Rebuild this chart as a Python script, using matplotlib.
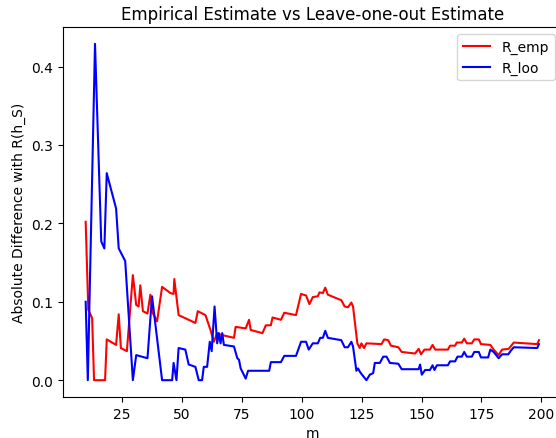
import matplotlib
matplotlib.use("Agg")
import matplotlib.pyplot as plt

# values
m_emp = [9.8, 10.9, 12.5, 13.3, 17.9, 18.6, 22.5, 23.6, 24.5, 27.0, 29.5, 30.9, 31.9,
         32.6, 33.7, 35.6, 36.8, 37.9, 39.6, 41.7, 45.2, 46.5, 46.8, 48.6, 55.6, 56.6,
         59.8, 61.9, 63.3, 64.7, 66.1, 71.7, 72.4, 76.6, 78.0, 78.7, 83.6, 85.0, 87.1,
         87.8, 91.3, 92.7, 97.6, 99.7, 101.8, 103.2, 104.6, 106.7, 107.4, 108.8, 109.8,
         110.9, 116.5, 117.9, 119.3, 120.7, 121.4, 123.2, 124.2, 124.9, 126.0, 127.0,
         133.3, 134.4, 136.1, 137.2, 140.3, 141.7, 147.3, 148.8, 149.8, 151.2, 153.5,
         154.6, 155.7, 161.0, 161.9, 164.0, 164.7, 166.8, 167.8, 168.9, 171.0, 172.0,
         173.9, 174.8, 178.7, 180.1, 182.2, 183.6, 186.4, 188.5, 198.3, 199.0]
r_emp = [0.202, 0.090, 0.079, 0.000, 0.000, 0.052, 0.045, 0.084, 0.041, 0.037, 0.134, 0.096, 0.094,
         0.121, 0.088, 0.085, 0.109, 0.085, 0.075, 0.119, 0.111, 0.110, 0.129, 0.083, 0.073, 0.088,
         0.083, 0.064, 0.049, 0.060, 0.058, 0.054, 0.068, 0.066, 0.077, 0.064, 0.060, 0.070, 0.070,
         0.080, 0.077, 0.086, 0.083, 0.110, 0.108, 0.097, 0.106, 0.107, 0.112, 0.111, 0.118,
         0.109, 0.102, 0.094, 0.093, 0.099, 0.094, 0.047, 0.041, 0.047, 0.041, 0.047,
         0.046, 0.052, 0.051, 0.044, 0.042, 0.036, 0.034, 0.040, 0.033, 0.039, 0.039,
         0.045, 0.039, 0.039, 0.044, 0.044, 0.048, 0.048, 0.053, 0.047, 0.047, 0.052,
         0.052, 0.046, 0.045, 0.039, 0.032, 0.039, 0.040, 0.048, 0.046, 0.051]

m_loo = [9.8, 10.7, 13.7, 16.3, 17.6, 18.6, 22.5, 23.6, 26.3, 29.5, 30.9, 35.6, 37.5, 41.7,
         45.9, 46.5, 47.7, 48.6, 51.4, 52.8, 55.6, 57.0, 58.4, 59.1, 60.5, 61.6, 62.4, 63.6,
         64.7, 65.4, 66.1, 66.8, 67.5, 71.7, 73.1, 73.8, 74.5, 76.6, 77.6, 86.4, 87.1, 91.3,
         92.7, 97.6, 99.7, 101.8, 102.9, 104.6, 106.7, 107.7, 108.8, 109.8, 110.9, 116.5,
         117.9, 119.3, 120.7, 121.4, 122.8, 123.5, 124.2, 124.9, 127.0, 128.4, 129.8, 130.5,
         132.6, 134.0, 135.4, 136.8, 140.3, 141.7, 148.8, 149.4, 150.1, 151.5, 153.5, 154.6,
         155.4, 156.4, 161.0, 161.9, 164.0, 165.0, 166.8, 167.8, 168.9, 171.0, 172.0, 173.9,
         174.8, 177.8, 178.7, 180.1, 182.2, 183.6, 186.2, 187.1, 188.5, 198.3, 199.0]
r_loo = [0.100, 0.000, 0.429, 0.177, 0.168, 0.264, 0.219, 0.168, 0.152, 0.000, 0.032, 0.028, 0.107, 0.000,
         0.000, 0.022, 0.000, 0.041, 0.039, 0.020, 0.017, 0.000, 0.000, 0.017, 0.017, 0.049, 0.037, 0.094,
         0.047, 0.060, 0.047, 0.060, 0.045, 0.043, 0.028, 0.026, 0.015, 0.002, 0.012, 0.012, 0.023, 0.023,
         0.031, 0.031, 0.049, 0.049, 0.039, 0.047, 0.047, 0.054, 0.054, 0.063, 0.054, 0.051,
         0.042, 0.042, 0.049, 0.043, 0.012, 0.015, 0.011, 0.008, 0.000, 0.007, 0.009, 0.022,
         0.022, 0.030, 0.030, 0.022, 0.021, 0.014, 0.014, 0.020, 0.007, 0.013, 0.013, 0.019,
         0.013, 0.019, 0.019, 0.024, 0.024, 0.030, 0.030, 0.036, 0.030, 0.030, 0.036, 0.036,
         0.029, 0.029, 0.039, 0.036, 0.028, 0.033, 0.033, 0.037, 0.042, 0.041, 0.046]

fig = plt.figure(figsize=(5.56, 4.39), dpi=100)
ax = fig.add_axes([63 / 556, 41 / 439, 498.6 / 556, 370 / 439])

ax.plot(m_emp, r_emp, color="red", label="R_emp")
ax.plot(m_loo, r_loo, color="blue", label="R_loo")

ax.set_title("Empirical Estimate vs Leave-one-out Estimate")
ax.set_xlabel("m")
ax.set_ylabel("Absolute Difference with R(h_S)")
ax.legend(loc="upper right")

fig.savefig("out.png", dpi=100)
